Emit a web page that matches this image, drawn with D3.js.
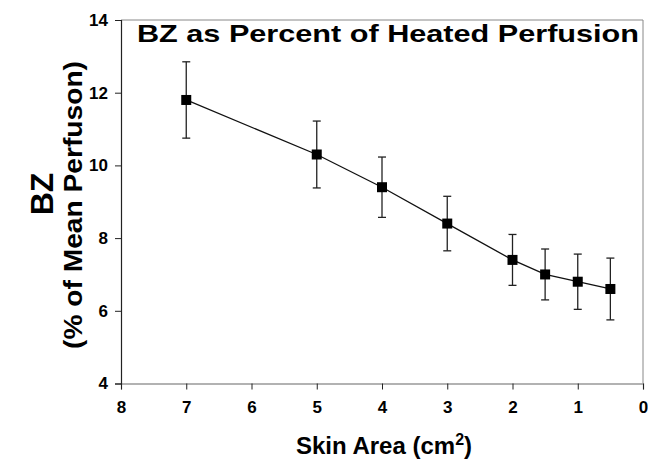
<!DOCTYPE html>
<html>
<head>
<meta charset="utf-8">
<script src="https://cdn.jsdelivr.net/npm/d3@7"></script>
<style>
  body { margin: 0; background: #fff; }
  text { font-family: "Liberation Sans", Arial, sans-serif; font-weight: bold; }
</style>
</head>
<body>
<svg id="chart" width="648" height="463"></svg>
<script>
// data
var skinArea = [7, 5, 4, 3, 2, 1.5, 1, 0.5];
var bzPercent = [11.8, 10.3, 9.4, 8.4, 7.4, 7.0, 6.8, 6.6];
var bzError = [1.05, 0.92, 0.83, 0.75, 0.7, 0.7, 0.76, 0.85];
var xTicks = [8, 7, 6, 5, 4, 3, 2, 1, 0];
var yTicks = [4, 6, 8, 10, 12, 14];

var svg = d3.select("#chart");

// plot area
var plotLeft = 121, plotRight = 643, plotTop = 20, plotBottom = 383.5;

var x = d3.scaleLinear().domain([8, 0]).range([plotLeft, plotRight]);
var y = d3.scaleLinear().domain([4, 14]).range([plotBottom, plotTop]);

// frame (top and right sides are light)
svg.append("line")
  .attr("x1", plotLeft).attr("x2", plotRight).attr("y1", plotTop).attr("y2", plotTop)
  .attr("stroke", "#888").attr("stroke-width", 1);
svg.append("line")
  .attr("x1", plotRight).attr("x2", plotRight).attr("y1", plotTop).attr("y2", plotBottom)
  .attr("stroke", "#888").attr("stroke-width", 1);

// x axis
var xAxis = svg.append("g")
  .attr("transform", "translate(0," + plotBottom + ")")
  .call(d3.axisBottom(x).tickValues(xTicks).tickSize(6).tickPadding(11).tickFormat(d3.format("d")));
xAxis.select(".domain").attr("stroke", "#999").attr("stroke-width", 1.3);
xAxis.selectAll(".tick line").attr("stroke", "#222");
xAxis.selectAll("text").attr("font-size", 17).attr("fill", "#000")
  .style("font-family", "Liberation Sans, Arial, sans-serif").style("font-weight", "bold");

// y axis
var yAxis = svg.append("g")
  .attr("transform", "translate(" + plotLeft + ",0)")
  .call(d3.axisLeft(y).tickValues(yTicks).tickSize(6).tickPadding(7).tickFormat(d3.format("d")));
yAxis.select(".domain").attr("stroke", "#222").attr("stroke-width", 1.2);
yAxis.selectAll(".tick line").attr("stroke", "#222");
yAxis.selectAll("text").attr("font-size", 17).attr("fill", "#000")
  .style("font-family", "Liberation Sans, Arial, sans-serif").style("font-weight", "bold");

// title inside plot
svg.append("text")
  .attr("x", 639).attr("y", 42)
  .attr("text-anchor", "end")
  .attr("font-size", 24)
  .attr("textLength", 502)
  .attr("lengthAdjust", "spacingAndGlyphs")
  .text("BZ as Percent of Heated Perfusion");

// axis titles
svg.append("text")
  .attr("transform", "translate(53,194) rotate(-90)")
  .attr("text-anchor", "middle")
  .attr("font-size", 32)
  .text("BZ");
svg.append("text")
  .attr("transform", "translate(82,205) rotate(-90)")
  .attr("text-anchor", "middle")
  .attr("font-size", 25)
  .attr("textLength", 288)
  .attr("lengthAdjust", "spacingAndGlyphs")
  .text("(% of Mean Perfuson)");

var xt = svg.append("text")
  .attr("x", 384).attr("y", 454)
  .attr("text-anchor", "middle")
  .attr("font-size", 24);
xt.append("tspan").text("Skin Area (cm");
xt.append("tspan").attr("font-size", 16).attr("dy", -9).text("2");
xt.append("tspan").attr("dy", 9).text(")");

// error bars
var eb = svg.append("g").selectAll("g")
  .data(skinArea)
  .enter()
  .append("g");
eb.append("line")
  .attr("x1", function (d) { return x(d); })
  .attr("x2", function (d) { return x(d); })
  .attr("y1", function (d, i) { return y(bzPercent[i] + bzError[i]); })
  .attr("y2", function (d, i) { return y(bzPercent[i] - bzError[i]); })
  .attr("stroke", "#222").attr("stroke-width", 1.3);
eb.append("line")
  .attr("x1", function (d) { return x(d) - 4; })
  .attr("x2", function (d) { return x(d) + 4; })
  .attr("y1", function (d, i) { return y(bzPercent[i] + bzError[i]); })
  .attr("y2", function (d, i) { return y(bzPercent[i] + bzError[i]); })
  .attr("stroke", "#222").attr("stroke-width", 1.3);
eb.append("line")
  .attr("x1", function (d) { return x(d) - 4; })
  .attr("x2", function (d) { return x(d) + 4; })
  .attr("y1", function (d, i) { return y(bzPercent[i] - bzError[i]); })
  .attr("y2", function (d, i) { return y(bzPercent[i] - bzError[i]); })
  .attr("stroke", "#222").attr("stroke-width", 1.3);

// connecting line
var line = d3.line()
  .x(function (d) { return x(d); })
  .y(function (d, i) { return y(bzPercent[i]); });
svg.append("path")
  .datum(skinArea)
  .attr("d", line)
  .attr("fill", "none")
  .attr("stroke", "#111")
  .attr("stroke-width", 1.3);

// square markers
svg.append("g").selectAll("rect")
  .data(skinArea)
  .enter()
  .append("rect")
  .attr("x", function (d) { return x(d) - 5; })
  .attr("y", function (d, i) { return y(bzPercent[i]) - 5; })
  .attr("width", 10)
  .attr("height", 10)
  .attr("fill", "#000");
</script>
</body>
</html>
